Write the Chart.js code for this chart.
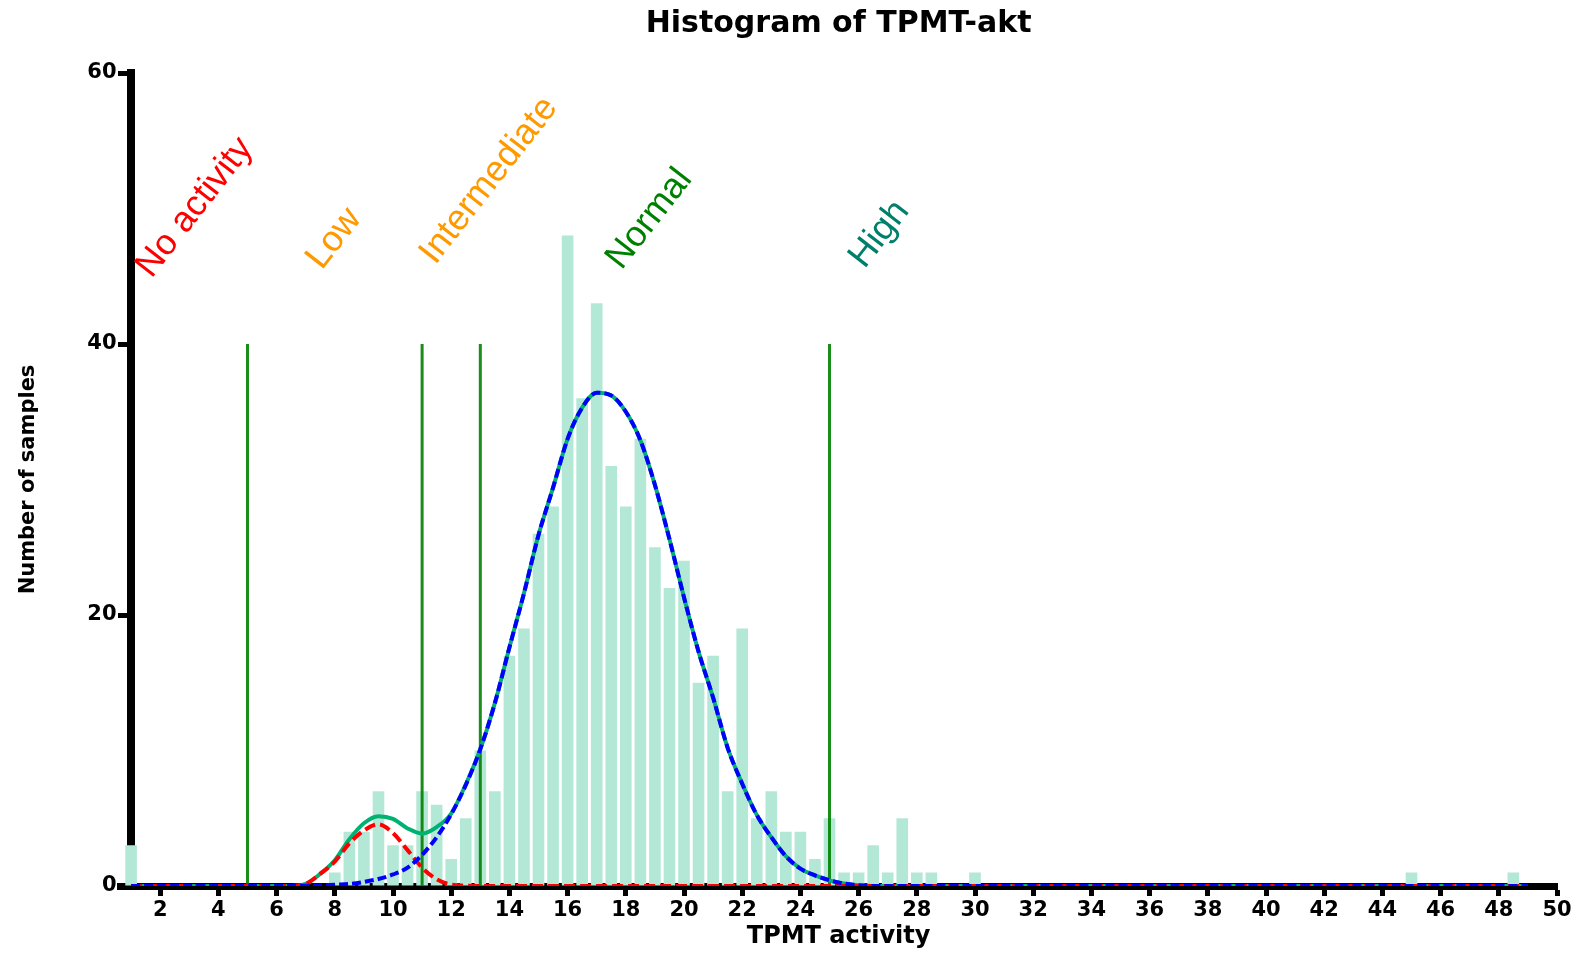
<!DOCTYPE html>
<html>
<head>
<meta charset="utf-8">
<title>Histogram of TPMT-akt</title>
<script src="https://cdn.jsdelivr.net/npm/chart.js@4.4.1/dist/chart.umd.min.js"></script>
<style>
  html, body { margin: 0; padding: 0; background: #fff; }
  #wrap { width: 1576px; height: 954px; }
</style>
</head>
<body>
<div id="wrap"><canvas id="histChart"></canvas></div>
<script>
// histogram bins (bin centre, number of samples)
var binCenters = [1, 8, 8.5, 9, 9.5, 10, 10.5, 11, 11.5, 12, 12.5, 13, 13.5, 14, 14.5, 15, 15.5,
  16, 16.5, 17, 17.5, 18, 18.5, 19, 19.5, 20, 20.5, 21, 21.5, 22, 22.5, 23, 23.5, 24, 24.5,
  25, 25.5, 26, 26.5, 27, 27.5, 28, 28.5, 30, 45, 48.5];
var binCounts = [3, 1, 4, 4, 7, 3, 3, 7, 6, 2, 5, 10, 7, 17, 19, 26, 28,
  48, 36, 43, 31, 28, 33, 25, 22, 24, 15, 17, 7, 19, 5, 7, 4, 4, 2,
  5, 1, 1, 3, 1, 5, 1, 1, 1, 1, 1];

// fitted curves
var curveX = [1, 6.5, 7, 7.5, 8, 8.5, 9, 9.5, 10, 10.5, 11, 11.5, 12, 12.5, 13, 13.5, 14, 14.5,
  15, 15.5, 16, 16.5, 17, 17.5, 18, 18.5, 19, 19.5, 20, 20.5, 21, 21.5, 22, 22.5, 23, 23.5,
  24, 24.5, 25, 25.5, 26, 26.5, 27, 49];
var lowFit = [0, 0, 0.15, 0.9, 1.8, 3.15, 4.1, 4.55, 3.9, 2.65, 1.35, 0.5, 0.1, 0.02, 0, 0, 0, 0,
  0, 0, 0, 0, 0, 0, 0, 0, 0, 0, 0, 0, 0, 0, 0, 0, 0, 0,
  0, 0, 0, 0, 0, 0, 0, 0];
var normalFit = [0, 0, 0.02, 0.04, 0.1, 0.15, 0.3, 0.52, 0.85, 1.35, 2.3, 3.6, 5.3, 7.45, 10.1, 13.5, 17.6, 21.6,
  25.9, 29.4, 33.0, 35.3, 36.4, 36.2, 35.0, 32.9, 29.6, 25.6, 21.3, 17.3, 13.9, 10.2, 7.55, 5.25, 3.6, 2.2,
  1.28, 0.78, 0.42, 0.18, 0.05, 0, 0, 0];
var sumFit = [0, 0, 0.15, 0.9, 1.9, 3.45, 4.63, 5.15, 4.95, 4.25, 3.87, 4.35, 5.35, 7.5, 10.1, 13.5, 17.6, 21.6,
  25.9, 29.4, 33.0, 35.3, 36.4, 36.2, 35.0, 32.9, 29.6, 25.6, 21.3, 17.3, 13.9, 10.2, 7.55, 5.25, 3.6, 2.2,
  1.28, 0.78, 0.42, 0.18, 0.05, 0, 0, 0];

// cut-off lines and phenotype labels
var cutoffX = [5, 11, 13, 25];
var cutoffTop = 40;
var groupNames = ['No activity', 'Low', 'Intermediate', 'Normal', 'High'];
var groupX = [1.7, 7.55, 11.45, 17.85, 26.2];
var groupY = [44.8, 45.4, 45.8, 45.4, 45.5];
var groupColors = ['#ff0000', '#ff9900', '#ff9900', '#008000', '#00806a'];

var xTicks = [2, 4, 6, 8, 10, 12, 14, 16, 18, 20, 22, 24, 26, 28, 30, 32, 34, 36, 38, 40, 42, 44, 46, 48, 50];

document.addEventListener('DOMContentLoaded', function () {
  var ctx = document.getElementById('histChart').getContext('2d');

  function pts(xs, ys) {
    return xs.map(function (x, i) { return { x: x, y: ys[i] }; });
  }

  var boldFont = function (size, lh) {
    return { family: 'DejaVu Sans', size: size, weight: 'bold', lineHeight: lh || 1.2 };
  };

  // rotated phenotype labels
  var phenotypeLabels = {
    id: 'phenotypeLabels',
    afterDatasetsDraw: function (chart) {
      var c = chart.ctx;
      var xs = chart.scales.x, ys = chart.scales.y;
      c.save();
      c.font = '36px "Liberation Sans", Arial, sans-serif';
      c.textAlign = 'left';
      c.textBaseline = 'alphabetic';
      for (var i = 0; i < groupNames.length; i++) {
        c.save();
        c.translate(xs.getPixelForValue(groupX[i]), ys.getPixelForValue(groupY[i]));
        c.rotate(-52 * Math.PI / 180);
        c.fillStyle = groupColors[i];
        c.fillText(groupNames[i], 0, 0);
        c.restore();
      }
      c.restore();
    }
  };

  var datasets = [
    {
      type: 'line', label: 'Normal fit', data: pts(curveX, normalFit),
      borderColor: '#0000ff', borderWidth: 4, borderDash: [9, 4],
      pointRadius: 0, cubicInterpolationMode: 'monotone', fill: false, order: 1,
      xAxisID: 'x', yAxisID: 'y'
    },
    {
      type: 'line', label: 'Low fit', data: pts(curveX, lowFit),
      borderColor: '#ff0000', borderWidth: 4, borderDash: [11, 5],
      pointRadius: 0, cubicInterpolationMode: 'monotone', fill: false, order: 2,
      xAxisID: 'x', yAxisID: 'y'
    },
    {
      type: 'line', label: 'Sum', data: pts(curveX, sumFit),
      borderColor: '#00b272', borderWidth: 4,
      pointRadius: 0, cubicInterpolationMode: 'monotone', fill: false, order: 3,
      xAxisID: 'x', yAxisID: 'y'
    },
    {
      type: 'bar', label: 'Samples', data: pts(binCenters, binCounts),
      backgroundColor: '#b4e8d6', borderWidth: 0,
      barPercentage: 0.8, categoryPercentage: 1, order: 5,
      xAxisID: 'x', yAxisID: 'y'
    }
  ];
  cutoffX.forEach(function (v) {
    datasets.push({
      type: 'line', label: 'cutoff ' + v, data: [{ x: v, y: 0 }, { x: v, y: cutoffTop }],
      borderColor: 'rgba(0,128,0,0.9)', borderWidth: 3, pointRadius: 0, fill: false, order: 4,
      xAxisID: 'x', yAxisID: 'y'
    });
  });

  new Chart(ctx, {
    type: 'bar',
    data: { datasets: datasets },
    options: {
      responsive: true,
      maintainAspectRatio: false,
      animation: false,
      layout: { padding: { left: 12, right: 19, top: 0, bottom: 0 } },
      plugins: {
        legend: { display: false },
        tooltip: { enabled: false },
        title: {
          display: true,
          text: 'Histogram of TPMT-akt',
          fullSize: false,
          color: '#000',
          font: boldFont(30),
          padding: { top: 6, bottom: 31 }
        }
      },
      scales: {
        x: {
          type: 'linear', min: 0.625, max: 50, offset: false,
          afterBuildTicks: function (axis) {
            axis.ticks = xTicks.map(function (v) { return { value: v }; });
          },
          grid: { drawOnChartArea: false, drawTicks: true, tickLength: 10, tickWidth: 5, tickColor: '#000', offset: false },
          border: { display: true, color: '#000', width: 7 },
          ticks: { color: '#000', font: boldFont(21, 1), padding: 4, maxRotation: 0, autoSkip: false },
          title: { display: true, text: 'TPMT activity', color: '#000', font: boldFont(24, 1), padding: { top: 0, bottom: 5 } }
        },
        y: {
          type: 'linear', position: { x: 1 }, min: 0, max: 60,
          ticks: {
            stepSize: 20, color: '#000', font: boldFont(21, 1),
            // labels sit on the axis line when it is placed at x = 1, so pad them with spaces
            callback: function (v) { return v + '  '; }
          },
          grid: { drawOnChartArea: false, tickLength: 9, tickWidth: 5, tickColor: '#000' },
          border: { color: '#000', width: 8 }
        },
        yTitle: {
          type: 'linear', position: 'left', display: true,
          ticks: { display: false },
          grid: { display: false, drawTicks: false },
          border: { display: false },
          title: { display: true, text: 'Number of samples', color: '#000', font: boldFont(21), padding: { top: 4, bottom: 79 } }
        }
      }
    },
    plugins: [phenotypeLabels]
  });
});
</script>
</body>
</html>
